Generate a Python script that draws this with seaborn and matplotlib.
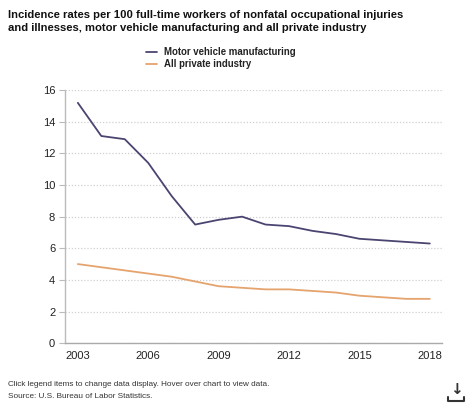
import pandas as pd
import matplotlib.pyplot as plt
import seaborn as sns
import numpy as np

# data
years = list(range(2003, 2019))
motor_vehicle = [15.2, 13.1, 12.9, 11.4, 9.3, 7.5, 7.8, 8.0, 7.5, 7.4, 7.1, 6.9, 6.6, 6.5, 6.4, 6.3]
private_industry = [5.0, 4.8, 4.6, 4.4, 4.2, 3.9, 3.6, 3.5, 3.4, 3.4, 3.3, 3.2, 3.0, 2.9, 2.8, 2.8]
x_ticks = [2003, 2006, 2009, 2012, 2015, 2018]
y_ticks = [0, 2, 4, 6, 8, 10, 12, 14, 16]

df = pd.DataFrame({
    "Year": years * 2,
    "Rate": motor_vehicle + private_industry,
    "Series": ["Motor vehicle manufacturing"] * len(years) + ["All private industry"] * len(years),
})

sns.set_style("white")
plt.rcParams["font.family"] = ["Liberation Sans", "DejaVu Sans"]

fig = plt.figure(figsize=(4.74, 4.08), dpi=100)
ax = fig.add_axes([0.137, 0.159, 0.795, 0.62])

palette = {"Motor vehicle manufacturing": "#4a4570", "All private industry": "#e5a36e"}
sns.lineplot(data=df, x="Year", y="Rate", hue="Series", palette=palette,
             linewidth=1.3, ax=ax, legend=False)

ax.set_xlim(2002.45, 2018.51)
ax.set_ylim(0, 16)
ax.set_xticks(x_ticks)
ax.set_yticks(y_ticks)
ax.set_xlabel("")
ax.set_ylabel("")
ax.yaxis.grid(True, linestyle=(0, (1, 1.5)), color="#d0d0d0", linewidth=0.9)
ax.xaxis.grid(False)
for side in ["top", "right"]:
    ax.spines[side].set_visible(False)
ax.spines["left"].set_color("#bbbbbb")
ax.spines["bottom"].set_color("#aaaaaa")
ax.spines["left"].set_linewidth(1.0)
ax.spines["bottom"].set_linewidth(1.0)
ax.tick_params(axis="y", length=4, width=0.8, color="#bbbbbb", labelsize=8,
               labelcolor="#222222", pad=3, left=True)
ax.tick_params(axis="x", length=0, labelsize=8, labelcolor="#222222", pad=6)

# title
fig.text(0.017, 0.975, "Incidence rates per 100 full-time workers of nonfatal occupational injuries\n"
         "and illnesses, motor vehicle manufacturing and all private industry",
         ha="left", va="top", fontsize=8.1, fontweight="bold", color="#111111", linespacing=1.3)

# legend
for i, (name, col) in enumerate(palette.items()):
    yy = 0.872 - i * 0.03
    fig.add_artist(plt.Line2D([0.308, 0.332], [yy, yy], color=col, linewidth=1.3))
    fig.text(0.345, yy, name, ha="left", va="center", fontsize=6.9,
             fontweight="bold", color="#222222")

# footer
fig.text(0.017, 0.058, "Click legend items to change data display. Hover over chart to view data.",
         ha="left", va="center", fontsize=5.9, color="#333333")
fig.text(0.017, 0.027, "Source: U.S. Bureau of Labor Statistics.",
         ha="left", va="center", fontsize=5.9, color="#333333")

# download icon
fig.text(0.962, 0.045, "\u2193", ha="center", va="center", fontsize=11,
         fontweight="bold", color="#333333", family="DejaVu Sans")
fig.add_artist(plt.Line2D([0.945, 0.945, 0.979, 0.979], [0.028, 0.016, 0.016, 0.028],
                          color="#333333", linewidth=1.5))

fig.savefig("out.png", dpi=100)
